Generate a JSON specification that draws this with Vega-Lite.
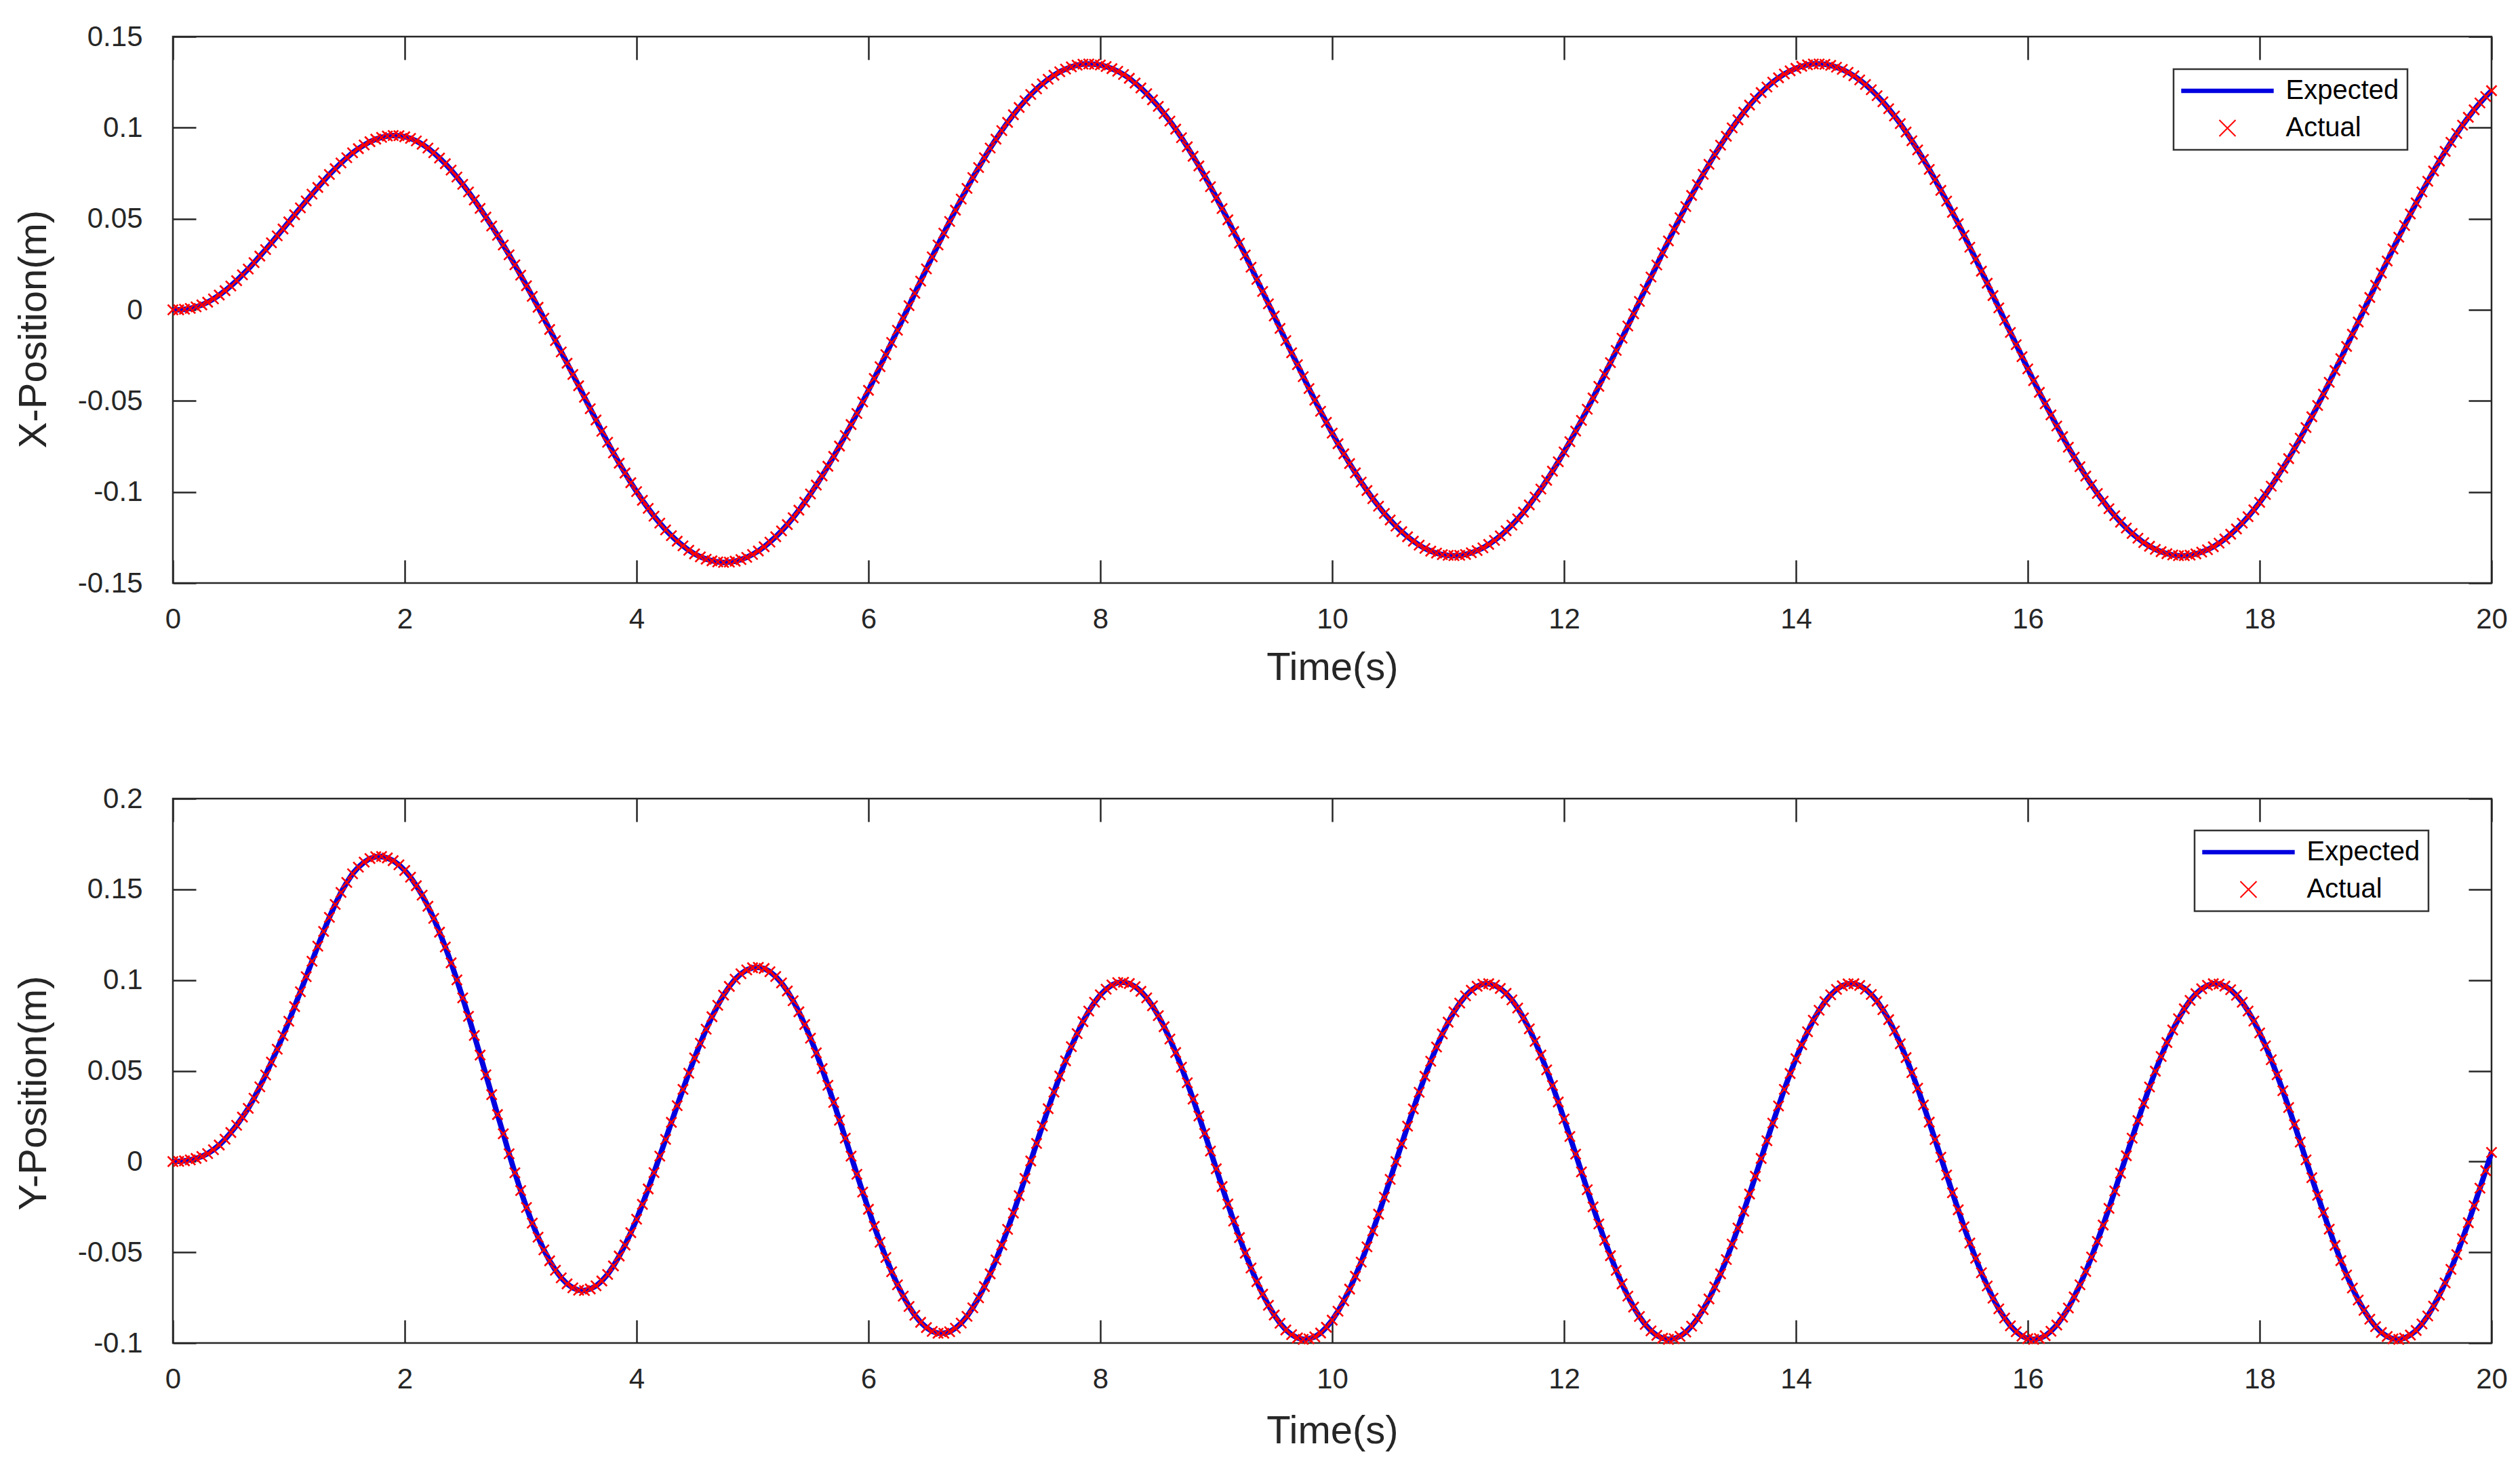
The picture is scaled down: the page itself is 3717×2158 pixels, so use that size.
{
"$schema":"https://vega.github.io/schema/vega-lite/v6.json",
"background":"white",
"padding":{"left":19,"top":31,"right":10,"bottom":10},
"config":{
"font":"Liberation Sans",
"view":{"stroke":"#262626","strokeWidth":2.5},
"axis":{"grid":false,"domain":false,"tickColor":"#262626","tickWidth":2.5,"tickSize":-34,"labelFont":"Liberation Sans","labelFontSize":42,"labelColor":"#262626","titleFont":"Liberation Sans","titleFontSize":58,"titleFontWeight":"normal","titleColor":"#262626","labelFlush":false,"labelOverlap":false}
},
"datasets":{"d":[
{"t":0,"x":0,"y":0},{"t":0.05,"x":0,"y":0.0001},{"t":0.1,"x":0.0003,"y":0.0004},{"t":0.15,"x":0.0008,"y":0.0009},{"t":0.2,"x":0.0016,"y":0.0017},{"t":0.25,"x":0.0027,"y":0.0028},{"t":0.3,"x":0.0042,"y":0.0044},{"t":0.35,"x":0.006,"y":0.0065},{"t":0.4,"x":0.0081,"y":0.0091},{"t":0.45,"x":0.0105,"y":0.0123},
{"t":0.5,"x":0.0131,"y":0.016},{"t":0.55,"x":0.016,"y":0.02},{"t":0.6,"x":0.0192,"y":0.0245},{"t":0.65,"x":0.0224,"y":0.0293},{"t":0.7,"x":0.0259,"y":0.0349},{"t":0.75,"x":0.0295,"y":0.0412},{"t":0.8,"x":0.0331,"y":0.0477},{"t":0.85,"x":0.0368,"y":0.0548},{"t":0.9,"x":0.0406,"y":0.0619},{"t":0.95,"x":0.0444,"y":0.0694},
{"t":1,"x":0.0483,"y":0.0773},{"t":1.05,"x":0.0522,"y":0.0854},{"t":1.1,"x":0.056,"y":0.0936},{"t":1.15,"x":0.0598,"y":0.1019},{"t":1.2,"x":0.0635,"y":0.1104},{"t":1.25,"x":0.0672,"y":0.1187},{"t":1.3,"x":0.0708,"y":0.1268},{"t":1.35,"x":0.0743,"y":0.1346},{"t":1.4,"x":0.0775,"y":0.1417},{"t":1.45,"x":0.0806,"y":0.1483},
{"t":1.5,"x":0.0835,"y":0.1538},{"t":1.55,"x":0.0862,"y":0.1586},{"t":1.6,"x":0.0885,"y":0.1622},{"t":1.65,"x":0.0905,"y":0.165},{"t":1.7,"x":0.0923,"y":0.167},{"t":1.75,"x":0.0937,"y":0.168},{"t":1.8,"x":0.0947,"y":0.1681},{"t":1.85,"x":0.0954,"y":0.1673},{"t":1.9,"x":0.0957,"y":0.1658},{"t":1.95,"x":0.0956,"y":0.1635},
{"t":2,"x":0.095,"y":0.1604},{"t":2.05,"x":0.0941,"y":0.1567},{"t":2.1,"x":0.0927,"y":0.152},{"t":2.15,"x":0.0909,"y":0.1468},{"t":2.2,"x":0.0888,"y":0.1407},{"t":2.25,"x":0.0862,"y":0.134},{"t":2.3,"x":0.0833,"y":0.1264},{"t":2.35,"x":0.0802,"y":0.1182},{"t":2.4,"x":0.0767,"y":0.1095},{"t":2.45,"x":0.0729,"y":0.1001},
{"t":2.5,"x":0.0689,"y":0.0902},{"t":2.55,"x":0.0647,"y":0.08},{"t":2.6,"x":0.0603,"y":0.0695},{"t":2.65,"x":0.0557,"y":0.0587},{"t":2.7,"x":0.0509,"y":0.0478},{"t":2.75,"x":0.046,"y":0.0369},{"t":2.8,"x":0.0409,"y":0.0259},{"t":2.85,"x":0.0356,"y":0.0153},{"t":2.9,"x":0.0302,"y":0.0043},{"t":2.95,"x":0.0247,"y":-0.0062},
{"t":3,"x":0.019,"y":-0.016},{"t":3.05,"x":0.0132,"y":-0.0253},{"t":3.1,"x":0.0074,"y":-0.0339},{"t":3.15,"x":0.0014,"y":-0.0417},{"t":3.2,"x":-0.0046,"y":-0.0487},{"t":3.25,"x":-0.0108,"y":-0.0547},{"t":3.3,"x":-0.0169,"y":-0.0599},{"t":3.35,"x":-0.0231,"y":-0.0641},{"t":3.4,"x":-0.0293,"y":-0.0674},{"t":3.45,"x":-0.0355,"y":-0.0696},
{"t":3.5,"x":-0.0417,"y":-0.0709},{"t":3.55,"x":-0.048,"y":-0.0711},{"t":3.6,"x":-0.0543,"y":-0.0702},{"t":3.65,"x":-0.0605,"y":-0.0685},{"t":3.7,"x":-0.0667,"y":-0.0658},{"t":3.75,"x":-0.0727,"y":-0.0622},{"t":3.8,"x":-0.0786,"y":-0.0575},{"t":3.85,"x":-0.0842,"y":-0.0521},{"t":3.9,"x":-0.0896,"y":-0.046},{"t":3.95,"x":-0.0949,"y":-0.0392},
{"t":4,"x":-0.0998,"y":-0.0318},{"t":4.05,"x":-0.1046,"y":-0.0236},{"t":4.1,"x":-0.109,"y":-0.0151},{"t":4.15,"x":-0.1133,"y":-0.0061},{"t":4.2,"x":-0.1171,"y":0.003},{"t":4.25,"x":-0.1208,"y":0.0122},{"t":4.3,"x":-0.124,"y":0.0216},{"t":4.35,"x":-0.127,"y":0.0308},{"t":4.4,"x":-0.1296,"y":0.0398},{"t":4.45,"x":-0.132,"y":0.0487},
{"t":4.5,"x":-0.134,"y":0.0571},{"t":4.55,"x":-0.1356,"y":0.0652},{"t":4.6,"x":-0.1369,"y":0.0729},{"t":4.65,"x":-0.1378,"y":0.0798},{"t":4.7,"x":-0.1384,"y":0.0861},{"t":4.75,"x":-0.1387,"y":0.0917},{"t":4.8,"x":-0.1385,"y":0.0965},{"t":4.85,"x":-0.138,"y":0.1005},{"t":4.9,"x":-0.1371,"y":0.1035},{"t":4.95,"x":-0.1359,"y":0.1056},
{"t":5,"x":-0.1343,"y":0.1068},{"t":5.05,"x":-0.1324,"y":0.107},{"t":5.1,"x":-0.1301,"y":0.1064},{"t":5.15,"x":-0.1275,"y":0.1046},{"t":5.2,"x":-0.1246,"y":0.102},{"t":5.25,"x":-0.1214,"y":0.0984},{"t":5.3,"x":-0.1179,"y":0.094},{"t":5.35,"x":-0.1141,"y":0.0886},{"t":5.4,"x":-0.11,"y":0.0825},{"t":5.45,"x":-0.1056,"y":0.0755},
{"t":5.5,"x":-0.1011,"y":0.068},{"t":5.55,"x":-0.0962,"y":0.0599},{"t":5.6,"x":-0.0912,"y":0.0512},{"t":5.65,"x":-0.0859,"y":0.042},{"t":5.7,"x":-0.0805,"y":0.0326},{"t":5.75,"x":-0.0748,"y":0.0228},{"t":5.8,"x":-0.069,"y":0.0129},{"t":5.85,"x":-0.063,"y":0.003},{"t":5.9,"x":-0.0569,"y":-0.007},{"t":5.95,"x":-0.0506,"y":-0.0168},
{"t":6,"x":-0.0442,"y":-0.0263},{"t":6.05,"x":-0.0377,"y":-0.0357},{"t":6.1,"x":-0.0312,"y":-0.0445},{"t":6.15,"x":-0.0246,"y":-0.0529},{"t":6.2,"x":-0.0179,"y":-0.0607},{"t":6.25,"x":-0.0112,"y":-0.0679},{"t":6.3,"x":-0.0045,"y":-0.0742},{"t":6.35,"x":0.0023,"y":-0.0799},{"t":6.4,"x":0.0091,"y":-0.0847},{"t":6.45,"x":0.0158,"y":-0.0886},
{"t":6.5,"x":0.0225,"y":-0.0915},{"t":6.55,"x":0.0291,"y":-0.0936},{"t":6.6,"x":0.0356,"y":-0.0946},{"t":6.65,"x":0.0421,"y":-0.0946},{"t":6.7,"x":0.0485,"y":-0.0938},{"t":6.75,"x":0.0547,"y":-0.0918},{"t":6.8,"x":0.0608,"y":-0.089},{"t":6.85,"x":0.0667,"y":-0.0853},{"t":6.9,"x":0.0726,"y":-0.0806},{"t":6.95,"x":0.0781,"y":-0.0751},
{"t":7,"x":0.0835,"y":-0.0689},{"t":7.05,"x":0.0888,"y":-0.0619},{"t":7.1,"x":0.0937,"y":-0.0542},{"t":7.15,"x":0.0984,"y":-0.046},{"t":7.2,"x":0.1029,"y":-0.0374},{"t":7.25,"x":0.1071,"y":-0.0284},{"t":7.3,"x":0.1111,"y":-0.0188},{"t":7.35,"x":0.1148,"y":-0.0093},{"t":7.4,"x":0.1182,"y":0.0003},{"t":7.45,"x":0.1213,"y":0.01},
{"t":7.5,"x":0.1241,"y":0.0196},{"t":7.55,"x":0.1266,"y":0.0291},{"t":7.6,"x":0.1288,"y":0.0383},{"t":7.65,"x":0.1307,"y":0.0471},{"t":7.7,"x":0.1322,"y":0.0555},{"t":7.75,"x":0.1334,"y":0.0633},{"t":7.8,"x":0.1343,"y":0.0705},{"t":7.85,"x":0.1349,"y":0.0771},{"t":7.9,"x":0.135,"y":0.0829},{"t":7.95,"x":0.1348,"y":0.0878},
{"t":8,"x":0.1344,"y":0.0919},{"t":8.05,"x":0.1336,"y":0.095},{"t":8.1,"x":0.1324,"y":0.0973},{"t":8.15,"x":0.131,"y":0.0986},{"t":8.2,"x":0.1292,"y":0.0988},{"t":8.25,"x":0.1271,"y":0.0981},{"t":8.3,"x":0.1245,"y":0.0964},{"t":8.35,"x":0.1218,"y":0.0938},{"t":8.4,"x":0.1187,"y":0.0902},{"t":8.45,"x":0.1153,"y":0.0858},
{"t":8.5,"x":0.1117,"y":0.0804},{"t":8.55,"x":0.1077,"y":0.0743},{"t":8.6,"x":0.1036,"y":0.0675},{"t":8.65,"x":0.0992,"y":0.0601},{"t":8.7,"x":0.0945,"y":0.052},{"t":8.75,"x":0.0895,"y":0.0434},{"t":8.8,"x":0.0843,"y":0.0344},{"t":8.85,"x":0.079,"y":0.0251},{"t":8.9,"x":0.0734,"y":0.0155},{"t":8.95,"x":0.0676,"y":0.0058},
{"t":9,"x":0.0617,"y":-0.004},{"t":9.05,"x":0.0556,"y":-0.0138},{"t":9.1,"x":0.0494,"y":-0.0234},{"t":9.15,"x":0.043,"y":-0.0328},{"t":9.2,"x":0.0366,"y":-0.0419},{"t":9.25,"x":0.0301,"y":-0.0505},{"t":9.3,"x":0.0234,"y":-0.0587},{"t":9.35,"x":0.0167,"y":-0.0662},{"t":9.4,"x":0.0101,"y":-0.0731},{"t":9.45,"x":0.0033,"y":-0.0792},
{"t":9.5,"x":-0.0034,"y":-0.0846},{"t":9.55,"x":-0.0102,"y":-0.0891},{"t":9.6,"x":-0.0169,"y":-0.0928},{"t":9.65,"x":-0.0236,"y":-0.0954},{"t":9.7,"x":-0.0301,"y":-0.0972},{"t":9.75,"x":-0.0367,"y":-0.098},{"t":9.8,"x":-0.0432,"y":-0.0977},{"t":9.85,"x":-0.0496,"y":-0.0966},{"t":9.9,"x":-0.0557,"y":-0.0945},{"t":9.95,"x":-0.0618,"y":-0.0913},
{"t":10,"x":-0.0677,"y":-0.0874},{"t":10.05,"x":-0.0735,"y":-0.0825},{"t":10.1,"x":-0.0791,"y":-0.0768},{"t":10.15,"x":-0.0844,"y":-0.0703},{"t":10.2,"x":-0.0895,"y":-0.0632},{"t":10.25,"x":-0.0946,"y":-0.0554},{"t":10.3,"x":-0.0992,"y":-0.047},{"t":10.35,"x":-0.1037,"y":-0.0382},{"t":10.4,"x":-0.1078,"y":-0.029},{"t":10.45,"x":-0.1118,"y":-0.0196},
{"t":10.5,"x":-0.1154,"y":-0.0098},{"t":10.55,"x":-0.1188,"y":0},{"t":10.6,"x":-0.1218,"y":0.0098},{"t":10.65,"x":-0.1246,"y":0.0195},{"t":10.7,"x":-0.127,"y":0.029},{"t":10.75,"x":-0.1292,"y":0.0382},{"t":10.8,"x":-0.131,"y":0.047},{"t":10.85,"x":-0.1325,"y":0.0553},{"t":10.9,"x":-0.1336,"y":0.0631},{"t":10.95,"x":-0.1344,"y":0.0703},
{"t":11,"x":-0.1348,"y":0.0768},{"t":11.05,"x":-0.135,"y":0.0825},{"t":11.1,"x":-0.1348,"y":0.0873},{"t":11.15,"x":-0.1343,"y":0.0913},{"t":11.2,"x":-0.1334,"y":0.0944},{"t":11.25,"x":-0.1322,"y":0.0966},{"t":11.3,"x":-0.1307,"y":0.0978},{"t":11.35,"x":-0.1288,"y":0.098},{"t":11.4,"x":-0.1266,"y":0.0972},{"t":11.45,"x":-0.1241,"y":0.0954},
{"t":11.5,"x":-0.1213,"y":0.0927},{"t":11.55,"x":-0.1182,"y":0.0891},{"t":11.6,"x":-0.1148,"y":0.0846},{"t":11.65,"x":-0.1111,"y":0.0792},{"t":11.7,"x":-0.1071,"y":0.0731},{"t":11.75,"x":-0.1028,"y":0.0662},{"t":11.8,"x":-0.0984,"y":0.0587},{"t":11.85,"x":-0.0936,"y":0.0505},{"t":11.9,"x":-0.0886,"y":0.0419},{"t":11.95,"x":-0.0834,"y":0.0328},
{"t":12,"x":-0.078,"y":0.0234},{"t":12.05,"x":-0.0724,"y":0.0138},{"t":12.1,"x":-0.0666,"y":0.0041},{"t":12.15,"x":-0.0607,"y":-0.0057},{"t":12.2,"x":-0.0546,"y":-0.0155},{"t":12.25,"x":-0.0484,"y":-0.025},{"t":12.3,"x":-0.042,"y":-0.0344},{"t":12.35,"x":-0.0355,"y":-0.0434},{"t":12.4,"x":-0.029,"y":-0.0519},{"t":12.45,"x":-0.0223,"y":-0.06},
{"t":12.5,"x":-0.0156,"y":-0.0674},{"t":12.55,"x":-0.0089,"y":-0.0742},{"t":12.6,"x":-0.0022,"y":-0.0802},{"t":12.65,"x":0.0046,"y":-0.0854},{"t":12.7,"x":0.0113,"y":-0.0898},{"t":12.75,"x":0.018,"y":-0.0933},{"t":12.8,"x":0.0246,"y":-0.0958},{"t":12.85,"x":0.0313,"y":-0.0974},{"t":12.9,"x":0.0378,"y":-0.098},{"t":12.95,"x":0.0442,"y":-0.0976},
{"t":13,"x":0.0506,"y":-0.0963},{"t":13.05,"x":0.0567,"y":-0.094},{"t":13.1,"x":0.0628,"y":-0.0907},{"t":13.15,"x":0.0687,"y":-0.0866},{"t":13.2,"x":0.0744,"y":-0.0816},{"t":13.25,"x":0.0799,"y":-0.0757},{"t":13.3,"x":0.0853,"y":-0.0691},{"t":13.35,"x":0.0904,"y":-0.0619},{"t":13.4,"x":0.0953,"y":-0.054},{"t":13.45,"x":0.0999,"y":-0.0455},
{"t":13.5,"x":0.1043,"y":-0.0366},{"t":13.55,"x":0.1085,"y":-0.0274},{"t":13.6,"x":0.1124,"y":-0.0179},{"t":13.65,"x":0.116,"y":-0.0081},{"t":13.7,"x":0.1193,"y":0.0017},{"t":13.75,"x":0.1223,"y":0.0115},{"t":13.8,"x":0.125,"y":0.0212},{"t":13.85,"x":0.1274,"y":0.0306},{"t":13.9,"x":0.1295,"y":0.0398},{"t":13.95,"x":0.1312,"y":0.0485},
{"t":14,"x":0.1326,"y":0.0567},{"t":14.05,"x":0.1337,"y":0.0644},{"t":14.1,"x":0.1345,"y":0.0715},{"t":14.15,"x":0.135,"y":0.0779},{"t":14.2,"x":0.135,"y":0.0834},{"t":14.25,"x":0.1348,"y":0.0881},{"t":14.3,"x":0.1342,"y":0.0919},{"t":14.35,"x":0.1332,"y":0.0949},{"t":14.4,"x":0.132,"y":0.0969},{"t":14.45,"x":0.1304,"y":0.0979},
{"t":14.5,"x":0.1285,"y":0.098},{"t":14.55,"x":0.1262,"y":0.097},{"t":14.6,"x":0.1237,"y":0.095},{"t":14.65,"x":0.1208,"y":0.0921},{"t":14.7,"x":0.1176,"y":0.0884},{"t":14.75,"x":0.1142,"y":0.0837},{"t":14.8,"x":0.1104,"y":0.0782},{"t":14.85,"x":0.1064,"y":0.072},{"t":14.9,"x":0.1022,"y":0.0649},{"t":14.95,"x":0.0976,"y":0.0573},
{"t":15,"x":0.0928,"y":0.049},{"t":15.05,"x":0.0878,"y":0.0404},{"t":15.1,"x":0.0826,"y":0.0312},{"t":15.15,"x":0.0771,"y":0.0217},{"t":15.2,"x":0.0715,"y":0.0121},{"t":15.25,"x":0.0656,"y":0.0024},{"t":15.3,"x":0.0597,"y":-0.0074},{"t":15.35,"x":0.0535,"y":-0.0172},{"t":15.4,"x":0.0473,"y":-0.0266},{"t":15.45,"x":0.0409,"y":-0.036},
{"t":15.5,"x":0.0344,"y":-0.0449},{"t":15.55,"x":0.0279,"y":-0.0533},{"t":15.6,"x":0.0212,"y":-0.0613},{"t":15.65,"x":0.0146,"y":-0.0686},{"t":15.7,"x":0.0078,"y":-0.0753},{"t":15.75,"x":0.0011,"y":-0.0812},{"t":15.8,"x":-0.0057,"y":-0.0862},{"t":15.85,"x":-0.0124,"y":-0.0905},{"t":15.9,"x":-0.0191,"y":-0.0938},{"t":15.95,"x":-0.0257,"y":-0.0962},
{"t":16,"x":-0.0324,"y":-0.0976},{"t":16.05,"x":-0.0389,"y":-0.098},{"t":16.1,"x":-0.0453,"y":-0.0975},{"t":16.15,"x":-0.0516,"y":-0.096},{"t":16.2,"x":-0.0577,"y":-0.0935},{"t":16.25,"x":-0.0638,"y":-0.0901},{"t":16.3,"x":-0.0696,"y":-0.0858},{"t":16.35,"x":-0.0754,"y":-0.0807},{"t":16.4,"x":-0.0809,"y":-0.0746},{"t":16.45,"x":-0.0861,"y":-0.0679},
{"t":16.5,"x":-0.0913,"y":-0.0606},{"t":16.55,"x":-0.0961,"y":-0.0526},{"t":16.6,"x":-0.1008,"y":-0.044},{"t":16.65,"x":-0.105,"y":-0.035},{"t":16.7,"x":-0.1092,"y":-0.0258},{"t":16.75,"x":-0.113,"y":-0.0162},{"t":16.8,"x":-0.1166,"y":-0.0064},{"t":16.85,"x":-0.1198,"y":0.0032},{"t":16.9,"x":-0.1228,"y":0.0129},{"t":16.95,"x":-0.1254,"y":0.0226},
{"t":17,"x":-0.1278,"y":0.032},{"t":17.05,"x":-0.1298,"y":0.0411},{"t":17.1,"x":-0.1315,"y":0.0498},{"t":17.15,"x":-0.1328,"y":0.0579},{"t":17.2,"x":-0.1339,"y":0.0656},{"t":17.25,"x":-0.1346,"y":0.0725},{"t":17.3,"x":-0.135,"y":0.0787},{"t":17.35,"x":-0.135,"y":0.0842},{"t":17.4,"x":-0.1347,"y":0.0888},{"t":17.45,"x":-0.134,"y":0.0925},
{"t":17.5,"x":-0.133,"y":0.0952},{"t":17.55,"x":-0.1317,"y":0.0971},{"t":17.6,"x":-0.1301,"y":0.098},{"t":17.65,"x":-0.1281,"y":0.0978},{"t":17.7,"x":-0.1258,"y":0.0967},{"t":17.75,"x":-0.1232,"y":0.0947},{"t":17.8,"x":-0.1203,"y":0.0916},{"t":17.85,"x":-0.1171,"y":0.0878},{"t":17.9,"x":-0.1136,"y":0.0829},{"t":17.95,"x":-0.1098,"y":0.0774},
{"t":18,"x":-0.1057,"y":0.0709},{"t":18.05,"x":-0.1014,"y":0.0638},{"t":18.1,"x":-0.0968,"y":0.0561},{"t":18.15,"x":-0.0919,"y":0.0478},{"t":18.2,"x":-0.0869,"y":0.039},{"t":18.25,"x":-0.0817,"y":0.0298},{"t":18.3,"x":-0.0761,"y":0.0204},{"t":18.35,"x":-0.0705,"y":0.0107},{"t":18.4,"x":-0.0646,"y":0.0009},{"t":18.45,"x":-0.0587,"y":-0.0089},
{"t":18.5,"x":-0.0525,"y":-0.0186},{"t":18.55,"x":-0.0463,"y":-0.0281},{"t":18.6,"x":-0.0398,"y":-0.0373},{"t":18.65,"x":-0.0333,"y":-0.0462},{"t":18.7,"x":-0.0268,"y":-0.0546},{"t":18.75,"x":-0.0201,"y":-0.0625},{"t":18.8,"x":-0.0134,"y":-0.0697},{"t":18.85,"x":-0.0067,"y":-0.0763},{"t":18.9,"x":0,"y":-0.082},{"t":18.95,"x":0.0068,"y":-0.0869},
{"t":19,"x":0.0135,"y":-0.091},{"t":19.05,"x":0.0202,"y":-0.0942},{"t":19.1,"x":0.0268,"y":-0.0964},{"t":19.15,"x":0.0334,"y":-0.0977},{"t":19.2,"x":0.0399,"y":-0.098},{"t":19.25,"x":0.0463,"y":-0.0973},{"t":19.3,"x":0.0526,"y":-0.0956},{"t":19.35,"x":0.0587,"y":-0.0931},{"t":19.4,"x":0.0647,"y":-0.0895},{"t":19.45,"x":0.0706,"y":-0.0851},
{"t":19.5,"x":0.0762,"y":-0.0797},{"t":19.55,"x":0.0817,"y":-0.0736},{"t":19.6,"x":0.087,"y":-0.0669},{"t":19.65,"x":0.092,"y":-0.0594},{"t":19.7,"x":0.0968,"y":-0.0513},{"t":19.75,"x":0.1014,"y":-0.0426},{"t":19.8,"x":0.1057,"y":-0.0337},{"t":19.85,"x":0.1098,"y":-0.0243},{"t":19.9,"x":0.1136,"y":-0.0147},{"t":19.95,"x":0.1171,"y":-0.005},
{"t":20,"x":0.1203,"y":0.005}
]},
"spacing":318,
"bounds":"flush",
"resolve":{"scale":{"color":"independent","shape":"independent"},"legend":{"color":"independent","shape":"independent"}},
"vconcat":[
{
"width":3420,"height":806,
"data":{"name":"d"},
"layer":[
{
"mark":{"type":"line","strokeWidth":8},
"encoding":{
"x":{"field":"t","type":"quantitative","scale":{"domain":[0,20],"nice":false,"zero":false},"axis":{"orient":"bottom","values":[0,2,4,6,8,10,12,14,16,18,20],"labelExpr":"'' + datum.value","title":"Time(s)","labelPadding":67,"titleY":142,"titleBaseline":"alphabetic"}},
"y":{"field":"x","type":"quantitative","scale":{"domain":[-0.15,0.15],"nice":false,"zero":false},"axis":{"orient":"left","values":[-0.15,-0.1,-0.05,0,0.05,0.1,0.15],"labelExpr":"'' + round(datum.value*100)/100","title":"X-Position(m)","labelPadding":79,"titleX":-188,"titleY":431,"titleAngle":270,"titleAlign":"center","titleBaseline":"alphabetic"}},
"color":{"datum":"Expected","type":"nominal","scale":{"domain":["Expected","Actual"],"range":["#0000e0","#ff0000"]},
"legend":{"title":null,"orient":"none","legendX":2951,"legendY":48,"direction":"vertical","padding":12,"rowPadding":15,"symbolSize":576,"symbolStrokeWidth":2,"symbolOffset":47.5,"labelOffset":66,"labelFontSize":40,"labelLimit":400,"labelColor":"#000000","labelFont":"Liberation Sans","strokeColor":"#333333","fillColor":"#ffffff","encode":{"symbols":{"update":{"fill":{"value":"#0000e0"}}},"legend":{"update":{"strokeWidth":{"value":2.5}}}}}}
}
},
{
"mark":{"type":"point","filled":false,"size":225,"strokeWidth":2.6,"opacity":1},
"encoding":{
"x":{"field":"t","type":"quantitative","axis":{"orient":"top","values":[0,2,4,6,8,10,12,14,16,18,20],"labels":false,"title":null}},
"y":{"field":"x","type":"quantitative","axis":{"orient":"right","values":[-0.15,-0.1,-0.05,0,0.05,0.1,0.15],"labels":false,"title":null}},
"color":{"datum":"Actual","type":"nominal"},
"shape":{"datum":"Actual","type":"nominal","scale":{"domain":["Expected","Actual"],"range":["M-5.6,-0.19L5.6,-0.19L5.6,0.19L-5.6,0.19Z","M-1,-1L1,1M-1,1L1,-1"]},
"legend":{"title":null,"orient":"none","legendX":2951,"legendY":48,"direction":"vertical","padding":12,"rowPadding":15,"symbolSize":576,"symbolStrokeWidth":2,"symbolOffset":47.5,"labelOffset":66,"labelFontSize":40,"labelLimit":400,"labelColor":"#000000","labelFont":"Liberation Sans","strokeColor":"#333333","fillColor":"#ffffff","encode":{"symbols":{"update":{"fill":{"value":"#0000e0"}}},"legend":{"update":{"strokeWidth":{"value":2.5}}}}}}
}
}
],
"resolve":{"axis":{"x":"independent","y":"independent"}}
},
{
"width":3420,"height":803,
"data":{"name":"d"},
"layer":[
{
"mark":{"type":"line","strokeWidth":8},
"encoding":{
"x":{"field":"t","type":"quantitative","scale":{"domain":[0,20],"nice":false,"zero":false},"axis":{"orient":"bottom","values":[0,2,4,6,8,10,12,14,16,18,20],"labelExpr":"'' + datum.value","title":"Time(s)","labelPadding":67,"titleY":147,"titleBaseline":"alphabetic"}},
"y":{"field":"y","type":"quantitative","scale":{"domain":[-0.1,0.2],"nice":false,"zero":false},"axis":{"orient":"left","values":[-0.1,-0.05,0,0.05,0.1,0.15,0.2],"labelExpr":"'' + round(datum.value*100)/100","title":"Y-Position(m)","labelPadding":79,"titleX":-188,"titleY":434,"titleAngle":270,"titleAlign":"center","titleBaseline":"alphabetic"}},
"color":{"datum":"Expected","type":"nominal","scale":{"domain":["Expected","Actual"],"range":["#0000e0","#ff0000"]},
"legend":{"title":null,"orient":"none","legendX":2982,"legendY":47,"direction":"vertical","padding":12,"rowPadding":15,"symbolSize":576,"symbolStrokeWidth":2,"symbolOffset":47.5,"labelOffset":66,"labelFontSize":40,"labelLimit":400,"labelColor":"#000000","labelFont":"Liberation Sans","strokeColor":"#333333","fillColor":"#ffffff","encode":{"symbols":{"update":{"fill":{"value":"#0000e0"}}},"legend":{"update":{"strokeWidth":{"value":2.5}}}}}}
}
},
{
"mark":{"type":"point","filled":false,"size":225,"strokeWidth":2.6,"opacity":1},
"encoding":{
"x":{"field":"t","type":"quantitative","axis":{"orient":"top","values":[0,2,4,6,8,10,12,14,16,18,20],"labels":false,"title":null}},
"y":{"field":"y","type":"quantitative","axis":{"orient":"right","values":[-0.1,-0.05,0,0.05,0.1,0.15,0.2],"labels":false,"title":null}},
"color":{"datum":"Actual","type":"nominal"},
"shape":{"datum":"Actual","type":"nominal","scale":{"domain":["Expected","Actual"],"range":["M-5.6,-0.19L5.6,-0.19L5.6,0.19L-5.6,0.19Z","M-1,-1L1,1M-1,1L1,-1"]},
"legend":{"title":null,"orient":"none","legendX":2982,"legendY":47,"direction":"vertical","padding":12,"rowPadding":15,"symbolSize":576,"symbolStrokeWidth":2,"symbolOffset":47.5,"labelOffset":66,"labelFontSize":40,"labelLimit":400,"labelColor":"#000000","labelFont":"Liberation Sans","strokeColor":"#333333","fillColor":"#ffffff","encode":{"symbols":{"update":{"fill":{"value":"#0000e0"}}},"legend":{"update":{"strokeWidth":{"value":2.5}}}}}}
}
}
],
"resolve":{"axis":{"x":"independent","y":"independent"}}
}
]
}
